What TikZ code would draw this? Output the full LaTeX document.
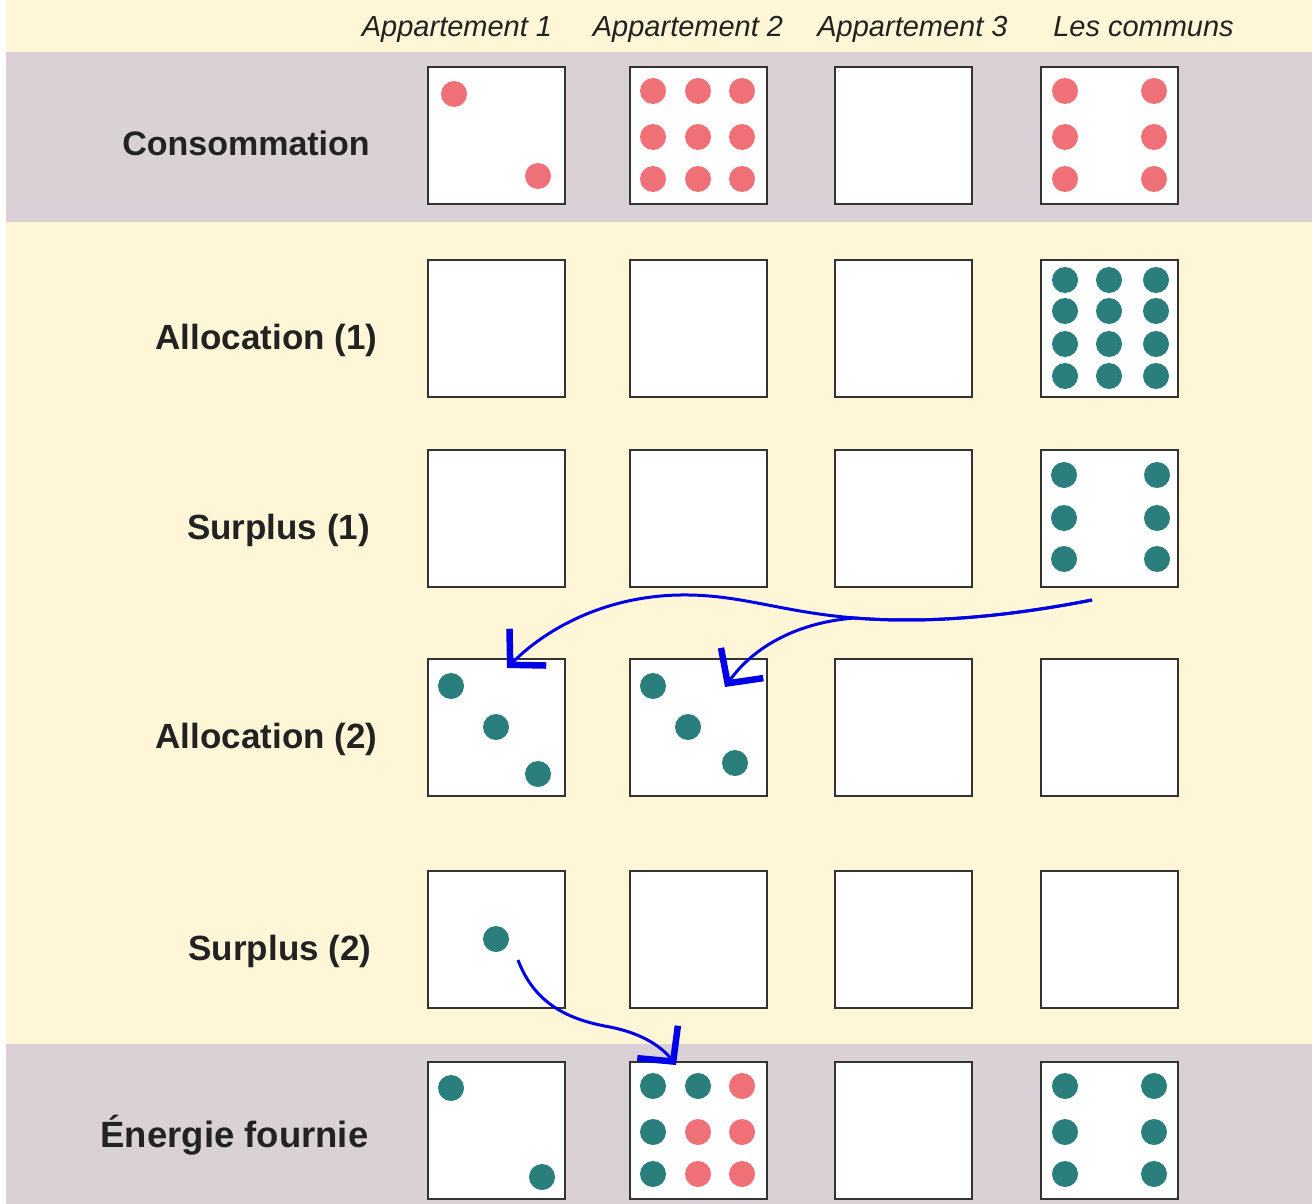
\documentclass[tikz,border=0pt]{standalone}
\usepackage{fontspec}
\setmainfont{Liberation Sans}
\usetikzlibrary{arrows.meta}
\definecolor{cream}{HTML}{FFF5D7}
\definecolor{band}{HTML}{D9D1D6}
\definecolor{dotred}{HTML}{F07077}
\definecolor{dotteal}{HTML}{2A7F7C}
\definecolor{arrowblue}{HTML}{0000E6}
\definecolor{ink}{HTML}{222222}
\begin{document}
\begin{tikzpicture}[x=1pt,y=-1pt,
  cell/.style={draw=black!80, line width=2pt, fill=white, minimum size=137pt, inner sep=0pt, shape=rectangle},
  rowlabel/.style={font=\fontsize{35}{40}\selectfont\bfseries, text=ink, inner sep=0pt, anchor=base},
  colhead/.style={font=\fontsize{29}{34}\selectfont\itshape, text=ink, inner sep=0pt, anchor=base},
  rd/.style={fill=dotred},
  tl/.style={fill=dotteal},
  flow/.style={draw=arrowblue, line width=3pt, -{Straight Barb[length=25pt,width=52pt,line width=6.5pt]}}
]
\useasboundingbox (0,0) rectangle (1312,1204);
% backgrounds
\fill[cream] (6,0) rectangle (1312,1204);
\fill[band] (6,52) rectangle (1312,222);
\fill[band] (6,1044) rectangle (1312,1204);

% column headers
\node[colhead] (h1) at (457,37) {Appartement 1};
\node[colhead] (h2) at (688,37) {Appartement 2};
\node[colhead] (h3) at (912.5,37) {Appartement 3};
\node[colhead] (h4) at (1143.5,37) {Les communs};

% row labels
\node[rowlabel, font=\fontsize{34}{40}\selectfont\bfseries] (l1) at (246,156) {Consommation};
\node[rowlabel] (l2) at (266.5,349) {Allocation (1)};
\node[rowlabel] (l3) at (278.5,539) {Surplus (1)};
\node[rowlabel] (l4) at (266.5,748) {Allocation (2)};
\node[rowlabel] (l5) at (280,960) {Surplus (2)};
\node[rowlabel, font=\fontsize{36.5}{42}\selectfont\bfseries] (l6) at (234.5,1147) {Énergie fournie};

% boxes
\foreach \y [count=\r] in {135.5,328,518,727,939,1130}{
  \foreach \x [count=\c] in {496.5,698.5,903.5,1109.5}{
    \node[cell] (b\r\c) at (\x,\y) {};
  }
}

% Consommation
\fill[rd] (454,94) circle[radius=13pt];
\fill[rd] (538,176) circle[radius=13pt];
\foreach \x in {653,698,742}{\foreach \y in {91,137,179}{\fill[rd] (\x,\y) circle[radius=13pt];}}
\foreach \x in {1065,1154}{\foreach \y in {91,137,179}{\fill[rd] (\x,\y) circle[radius=13pt];}}

% Allocation (1)
\foreach \x in {1065,1109,1156}{\foreach \y in {280,311,344,376}{\fill[tl] (\x,\y) circle[radius=13pt];}}

% Surplus (1)
\foreach \x in {1064,1157}{\foreach \y in {475,518,559}{\fill[tl] (\x,\y) circle[radius=13pt];}}

% Allocation (2)
\foreach \p in {(451,686),(496,727),(538,774),(653,686),(688,727),(735,763)}{\fill[tl] \p circle[radius=13pt];}

% Surplus (2)
\fill[tl] (496,939) circle[radius=13pt];

% Energie fournie
\foreach \p in {(451,1088),(542,1177),(653,1086),(698,1086),(653,1132),(653,1174)}{\fill[tl] \p circle[radius=13pt];}
\foreach \p in {(742,1086),(698,1132),(742,1132),(698,1174),(742,1174)}{\fill[rd] \p circle[radius=13pt];}
\foreach \x in {1065,1154}{\foreach \y in {1086,1132,1174}{\fill[tl] (\x,\y) circle[radius=13pt];}}

% connectors
\coordinate (s1) at (1092,600);
\coordinate (t1) at (507,668);
\coordinate (t2) at (725,687);
\coordinate (s3) at (518,960);
\coordinate (t3) at (676,1065);

\draw[flow] (s1) .. controls (1010,616) and (930,624) .. (855,618)
  .. controls (780,612) and (740,594) .. (680,595)
  .. controls (610,596) and (550,625) .. (t1);
\draw[flow] (s1) .. controls (1010,616) and (930,624) .. (855,618)
  .. controls (800,622) and (755,645) .. (t2);
\draw[flow] (s3) .. controls (535,1005) and (570,1020) .. (610,1027)
  .. controls (640,1033) and (660,1045) .. (t3);
\end{tikzpicture}
\end{document}
